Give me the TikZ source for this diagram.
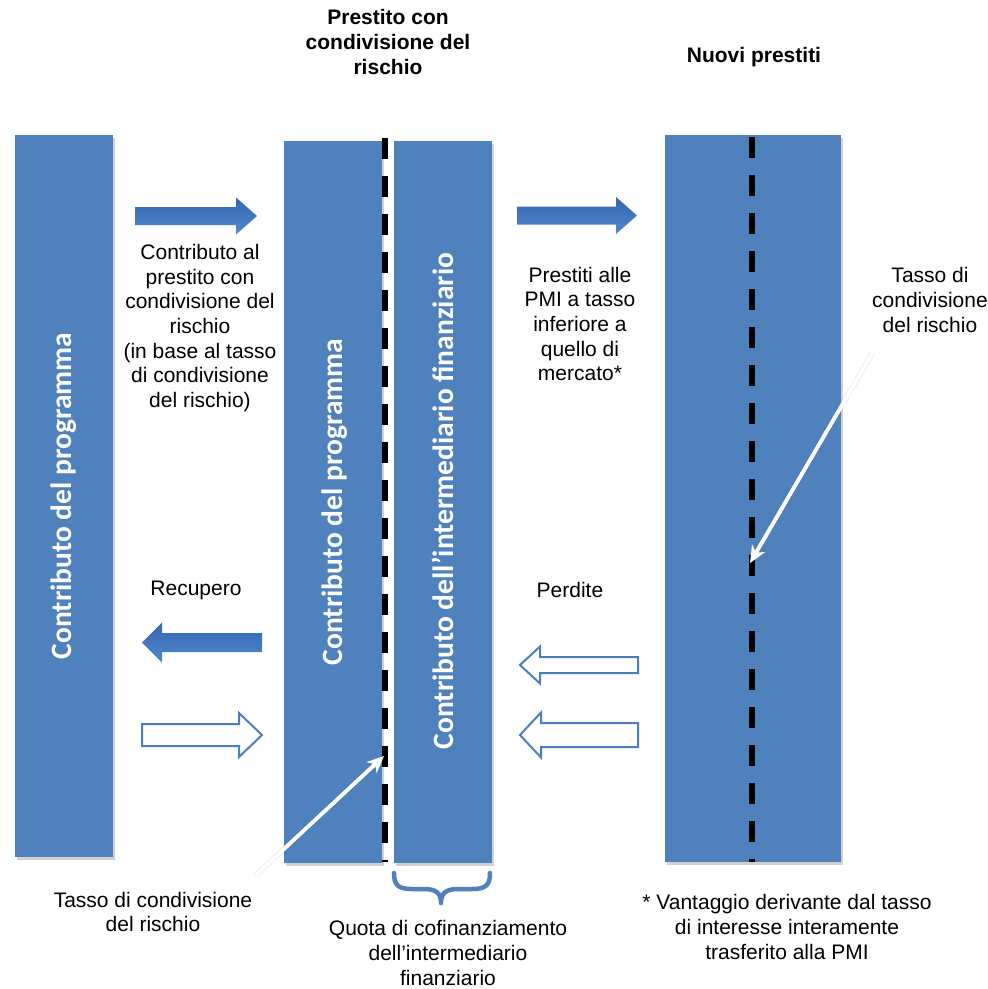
\documentclass[tikz,border=0pt]{standalone}
\usepackage{fontspec}
\setmainfont{Liberation Sans}
\newfontfamily\barfont{Carlito}
\usetikzlibrary{arrows.meta,shadows}

\definecolor{barblue}{HTML}{4F81BD}
\definecolor{arrowdark}{HTML}{3366B0}
\definecolor{arrowlight}{HTML}{5089CC}
\definecolor{outlineblue}{HTML}{4A7EC0}

% block arrow: [style]{tail x}{tip x}{centre y}{half shaft}{half head}{signed head length}
\newcommand{\blkarrow}[7][]{%
  \draw[#1] (#2,{#4-#5}) -- ({#3-#7},{#4-#5}) -- ({#3-#7},{#4-#6}) -- (#3,#4)
    -- ({#3-#7},{#4+#6}) -- ({#3-#7},{#4+#5}) -- (#2,{#4+#5}) -- cycle;}

\begin{document}
\begin{tikzpicture}[x=1pt,y=-1pt,
  bar/.style={fill=barblue, draw=none, inner sep=0pt,
    drop shadow={shadow xshift=2pt, shadow yshift=-3pt, opacity=0.18, fill=black}},
  barlabel/.style={rotate=90, text=white, inner sep=0pt,
    font=\barfont\bfseries\fontsize{29.5}{35}\selectfont},
  txt/.style={align=center, inner sep=0pt, font=\fontsize{21}{24.6}\selectfont},
  heading/.style={txt, font=\bfseries\fontsize{21}{24.6}\selectfont},
  split/.style={line width=6pt, dash pattern=on 21pt off 17pt},
  solidarrow/.style={top color=arrowdark, bottom color=arrowlight, draw=none},
  hollowarrow/.style={fill=white, draw=outlineblue, line width=2pt, line join=miter},
  pointer/.style={draw=white, line width=4pt,
    -{Stealth[length=17pt,width=15pt,inset=5pt]}},
  pointershadow/.style={draw=black, opacity=0.12, line width=5pt,
    -{Stealth[length=17pt,width=15pt,inset=5pt]}, shift={(1.5,1.5)}},
  brace/.style={draw=barblue, line width=4.5pt, line cap=round, line join=round},
]
\useasboundingbox (0,0) rectangle (988,989);

% headings
\node[heading] (hshare) at (388,42) {Prestito con\\condivisione del\\rischio};
\node[heading] (hnew) at (754,57) {Nuovi prestiti};

% vertical bars
\node[bar, minimum width=98pt, minimum height=722pt] (prog) at (64,496) {};
\node[bar, minimum width=98pt, minimum height=722pt] (progshare) at (333,502) {};
\node[bar, minimum width=98pt, minimum height=722pt] (inter) at (443,502) {};
\node[bar, minimum width=176pt, minimum height=727pt] (loans) at (753,498.5) {};

\node[barlabel] (proglab) at (64,496) {Contributo del programma};
\node[barlabel] (progsharelab) at (335,502) {Contributo del programma};
\node[barlabel] (interlab) at (443,501) {Contributo dell’intermediario finanziario};

% risk-sharing split lines
\coordinate (splitAtop) at (385,138);
\coordinate (splitAbot) at (385,862);
\coordinate (splitBtop) at (752,137);
\coordinate (splitBbot) at (752,862);
\draw[split] (splitAtop) -- (splitAbot);
\draw[split] (splitBtop) -- (splitBbot);

% block arrows
\blkarrow[solidarrow]{135}{257}{216}{9}{18.5}{21}
\blkarrow[solidarrow]{517}{637}{215.5}{9}{18.5}{21}
\blkarrow[solidarrow]{262}{142}{642.5}{9.5}{20}{-20}
\blkarrow[hollowarrow]{142}{262}{735}{11}{22}{23}
\blkarrow[hollowarrow]{638}{520}{665}{8}{18.5}{-20}
\blkarrow[hollowarrow]{638}{520}{735}{12}{22.5}{-21}

% text
\node[txt] (contrib) at (200,328) {Contributo al\\prestito con\\condivisione del\\rischio\\(in base al tasso\\di condivisione\\del rischio)};
\node[txt] (recover) at (196,590) {Recupero};
\node[txt] (smeloans) at (580,324) {Prestiti alle\\PMI a tasso\\inferiore a\\quello di\\mercato*};
\node[txt] (losses) at (570,590) {Perdite};
\node[txt] (rateR) at (930,300) {Tasso di\\condivisione\\del rischio};
\node[txt] (rateL) at (153,912) {Tasso di condivisione\\del rischio};
\node[txt] (cofin) at (448,953) {Quota di cofinanziamento\\dell’intermediario\\finanziario};
\node[txt] (benefit) at (787,927) {* Vantaggio derivante dal tasso\\di interesse interamente\\trasferito alla PMI};

% brace under the intermediary bar
\draw[brace] (394,873) .. controls (394,885) and (398,889) .. (412,889) -- (424,889)
  .. controls (436,889) and (441,893) .. (441,903)
  .. controls (441,893) and (446,889) .. (458,889) -- (472,889)
  .. controls (486,889) and (490,885) .. (490,873);

% white pointers to the split lines
\coordinate (ptrLtail) at (256,875);
\coordinate (ptrLtip) at (384,756);
\coordinate (ptrRtail) at (873,352);
\coordinate (ptrRtip) at (750,563);
\draw[pointershadow] (ptrLtail) -- (ptrLtip);
\draw[pointershadow] (ptrRtail) -- (ptrRtip);
\draw[pointer] (ptrLtail) -- (ptrLtip);
\draw[pointer] (ptrRtail) -- (ptrRtip);
\end{tikzpicture}
\end{document}
